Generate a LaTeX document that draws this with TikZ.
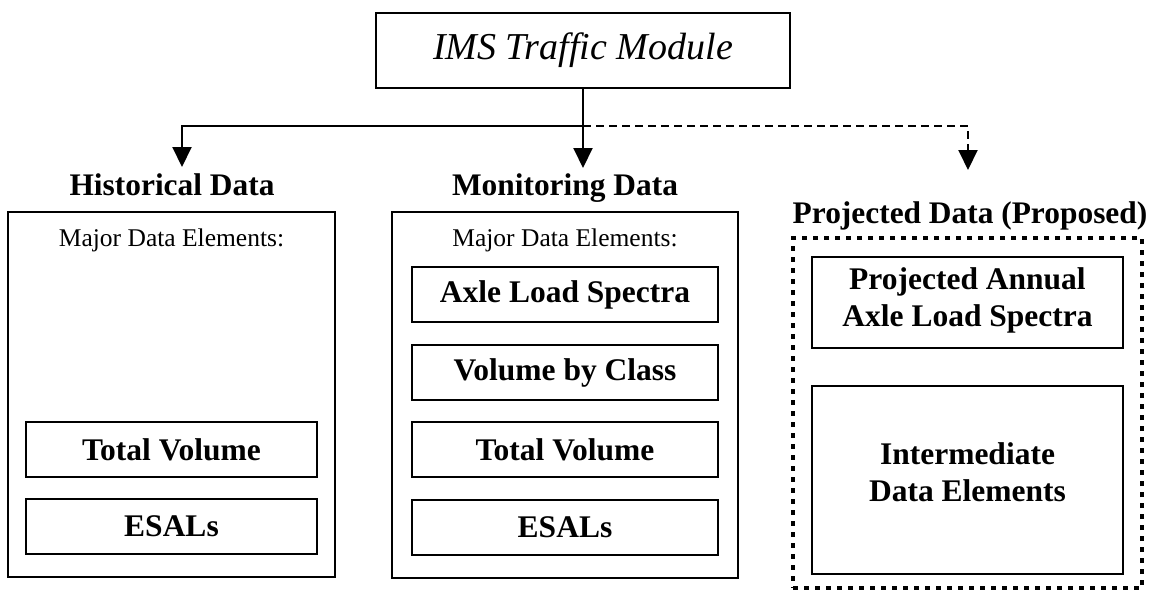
\documentclass[tikz,border=0pt]{standalone}
\usepackage{fontspec}
\setmainfont{Liberation Serif}
\usetikzlibrary{arrows.meta}
\begin{document}
\begin{tikzpicture}[x=1pt,y=-1pt,
  box/.style={draw, line width=2.4pt, inner sep=0pt},
  inbox/.style={draw, line width=2pt, inner sep=0pt, align=center,
    font=\fontsize{31.5}{37}\selectfont\bfseries},
  intext/.style={inner sep=0pt, align=center, font=\fontsize{31.5}{37}\selectfont\bfseries},
  head/.style={font=\fontsize{31.4}{36}\selectfont\bfseries, inner sep=0pt, anchor=base},
  sub/.style={font=\fontsize{25.5}{30}\selectfont, inner sep=0pt, anchor=base},
  conn/.style={line width=2pt, line join=miter},
  tip/.style={-{Triangle[length=20pt,width=19pt]}},
  dotbox/.style={draw, line width=4pt, dash pattern=on 5pt off 6pt, inner sep=0pt},
]
\useasboundingbox (0,0) rectangle (1162,592);

% top module
\node[box, minimum width=414pt, minimum height=75pt,
      font=\fontsize{38}{40}\selectfont\itshape] (top) at (583,50.5) {IMS Traffic Module};

% headings
\node[head] (hh) at (172,195) {Historical Data};
\node[head] (mh) at (565,195) {Monitoring Data};
\node[head] (ph) at (970,223) {Projected Data (Proposed)};

% outer boxes
\node[box, minimum width=327pt, minimum height=365pt] (hbox) at (171.5,394.5) {};
\node[box, minimum width=346pt, minimum height=366pt] (mbox) at (565,395) {};
\node[dotbox, minimum width=349pt, minimum height=350pt] (pbox) at (967.5,413) {};

% sub labels
\node[sub] (hsub) at (171.5,246) {Major Data Elements:};
\node[sub] (msub) at (565,246) {Major Data Elements:};

% historical inner boxes
\node[inbox, minimum width=291pt, minimum height=55pt] (htv) at (171.5,449.5) {Total Volume};
\node[inbox, minimum width=291pt, minimum height=55pt] (hes) at (171.5,526.5) {ESALs};

% monitoring inner boxes
\node[inbox, minimum width=306pt, minimum height=55pt] (mal) at (565,294.5) {Axle Load Spectra};
\node[inbox, minimum width=306pt, minimum height=55pt] (mvc) at (565,372.5) {Volume by Class};
\node[inbox, minimum width=306pt, minimum height=55pt] (mtv) at (565,449.5) {Total Volume};
\node[inbox, minimum width=306pt, minimum height=55pt] (mes) at (565,527.5) {ESALs};

% projected inner boxes
\node[inbox, minimum width=311pt, minimum height=91pt] (ppa) at (967.5,302.5) {};
\node[intext] (ppat) at (967.5,300) {Projected Annual\\Axle Load Spectra};
\node[inbox, minimum width=311pt, minimum height=188pt] (pid) at (967.5,480) {};
\node[intext] (pidt) at (967.5,472) {Intermediate\\Data Elements};

% connectors
\coordinate (jm) at (583,126);
\coordinate (jl) at (182,126);
\coordinate (jr) at (968,126);
\coordinate (tl) at (182,167);
\coordinate (tm) at (583,168);
\coordinate (tr) at (968,170);

\draw[conn] (top.south) -- (jm);
\draw[conn, tip] (jm) -- (tm);
\draw[conn, tip] (jm) -- (jl) -- (tl);
\draw[conn, tip, dash pattern=on 8pt off 5pt] (jm) -- (jr) -- (tr);
\end{tikzpicture}
\end{document}
